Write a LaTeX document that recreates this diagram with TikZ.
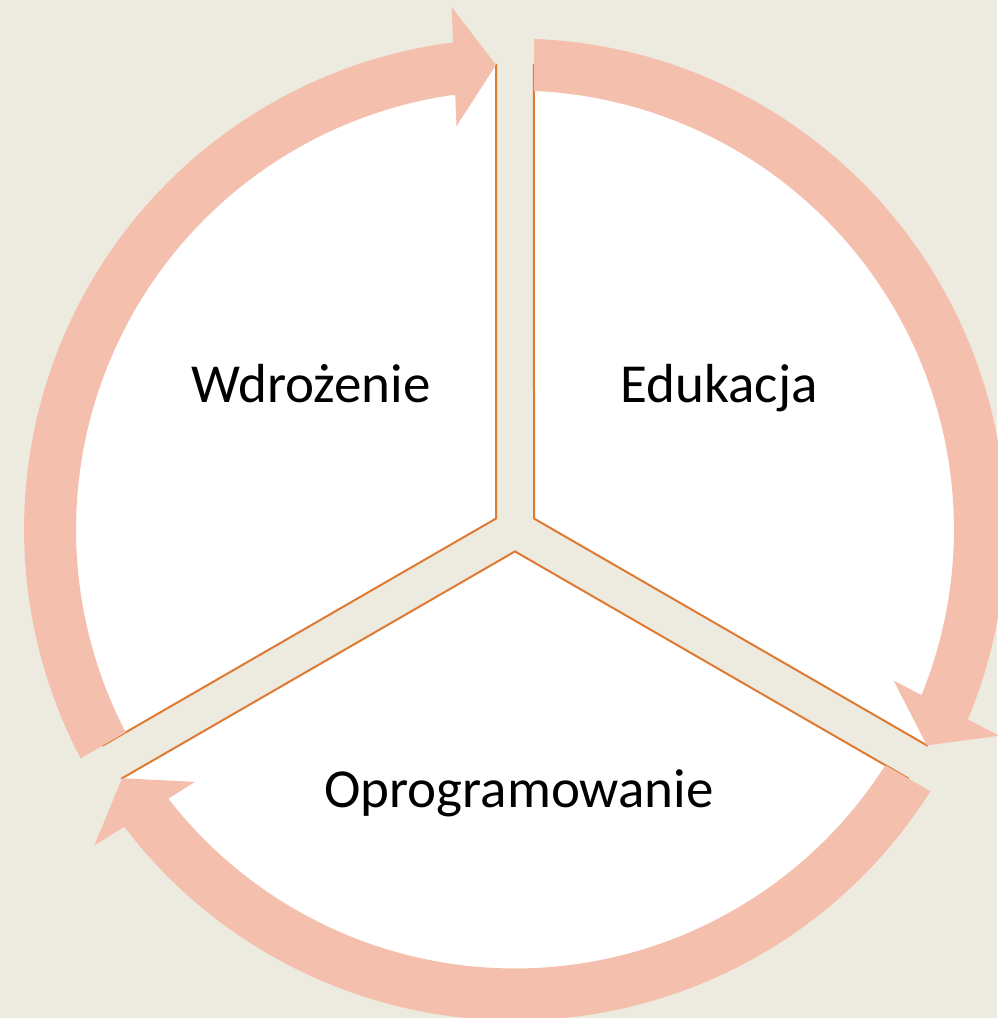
\documentclass[tikz,border=0pt]{standalone}
\usepackage{fontspec}
\setmainfont{Carlito}
\definecolor{bg}{HTML}{EDEAE0}
\definecolor{ringc}{HTML}{F4BFAD}
\definecolor{edgec}{HTML}{DF7A33}
\begin{document}
\begin{tikzpicture}[x=1pt,y=1pt,
  sector/.style={fill=white, draw=edgec, line width=2pt, line join=miter},
  ringseg/.style={fill=ringc},
  lbl/.style={anchor=base, inner sep=0pt, font=\fontsize{55}{66}\selectfont}]
\fill[bg] (0,0) rectangle (997,1018);
\useasboundingbox (0,0) rectangle (997,1018);
\begin{scope}[shift={(515,488.5)}]
  % three sectors with gaps
  \foreach \b in {30,-90,150} {
    \path[sector] (\b:21.94) -- (\b+57.66:465)
      arc[start angle=\b+57.66, end angle=\b-57.66, radius=465] -- cycle;
  }
  % three ring arrows, each in a frame rotated to its tip
  \foreach \b in {30,-90,150} {
    \begin{scope}[rotate=\b-57.66]
      \path[ringseg] (115.44:491)
        arc[start angle=115.44, end angle=4.91, radius=491]
        -- (524.5,42) -- (465,0) -- (405.5,42) -- (5.49:439)
        arc[start angle=5.49, end angle=115.18, radius=439] -- cycle;
    \end{scope}
  }
\end{scope}
\node[lbl] (w) at (311,615) {Wdrożenie};
\node[lbl] (e) at (719,615) {Edukacja};
\node[lbl] (o) at (519,210) {Oprogramowanie};
\end{tikzpicture}
\end{document}
